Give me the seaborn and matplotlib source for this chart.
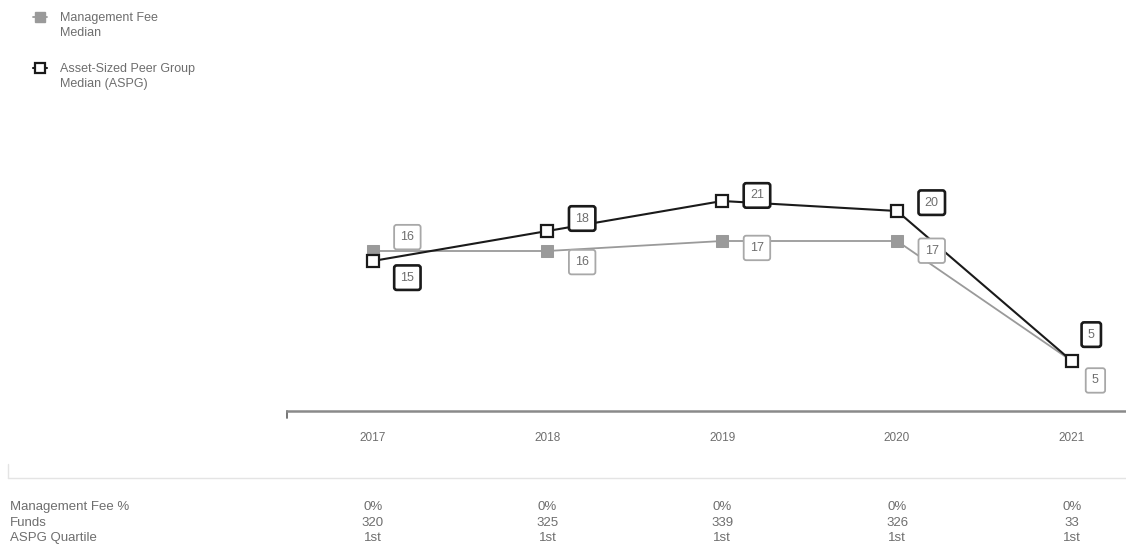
import matplotlib
matplotlib.use("Agg")
import matplotlib.pyplot as plt
import matplotlib.transforms as mtransforms
from matplotlib.lines import Line2D
import seaborn as sns
import pandas as pd

years = ["2017", "2018", "2019", "2020", "2021"]
mgmt_fee_median = [16, 16, 17, 17, 5]
aspg_median = [15, 18, 21, 20, 5]
mgmt_fee_pct = ["0%", "0%", "0%", "0%", "0%"]
funds = ["320", "325", "339", "326", "33"]
aspg_quartile = ["1st", "1st", "1st", "1st", "1st"]
row_labels = ["Management Fee %", "Funds", "ASPG Quartile"]
series_names = ["Management Fee\nMedian", "Asset-Sized Peer Group\nMedian (ASPG)"]

sns.set_theme(style="white")
plt.rcParams["font.family"] = ["Liberation Sans", "DejaVu Sans"]

GRAY = "#9a9a9a"
DARK = "#1a1a1a"
TEXT = "#6e6e6e"
W, H = 1126, 560

df = pd.DataFrame({
    "idx": list(range(len(years))) * 2,
    "value": mgmt_fee_median + aspg_median,
    "series": [series_names[0]] * len(years) + [series_names[1]] * len(years),
})

fig = plt.figure(figsize=(W / 100, H / 100), dpi=100)
ax = fig.add_axes([287 / W, 1 - 411 / H, 1 - 287 / W, 260 / H])

sns.lineplot(data=df[df.series == series_names[0]], x="idx", y="value",
             color=GRAY, lw=1.3, marker="s", markersize=8,
             markerfacecolor=GRAY, markeredgecolor=GRAY, ax=ax, legend=False)
sns.lineplot(data=df[df.series == series_names[1]], x="idx", y="value",
             color=DARK, lw=1.5, marker="s", markersize=8,
             markerfacecolor="white", markeredgecolor=DARK, markeredgewidth=1.6,
             ax=ax, legend=False)

ax.set_xlim(-0.49, 4.31)
ax.set_ylim(0, 26)
for s in ["left", "right", "top"]:
    ax.spines[s].set_visible(False)
ax.spines["bottom"].set_color("#8a8a8a")
ax.spines["bottom"].set_linewidth(1.8)
ax.set_xticks(range(len(years)))
ax.set_xticklabels(years, fontsize=8.5, color=TEXT)
ax.tick_params(axis="x", length=0, pad=15)
ax.set_yticks([])
ax.set_xlabel("")
ax.set_ylabel("")
# small downward tick at the left end of the baseline
ax.add_line(Line2D([0, 0], [0, -0.028], transform=ax.transAxes, color="#6a6a6a",
                   lw=1.3, clip_on=False))

# value labels (offsets in points)
gray_off = [(25, 10), (25, -8), (25, -5), (25, -7), (17, -14)]
dark_off = [(25, -12), (25, 9), (25, 4), (25, 6), (14, 19)]
box_kw = dict(boxstyle="round,pad=0.5,rounding_size=0.2", fc="white")
for i in range(len(years)):
    ax.annotate(str(mgmt_fee_median[i]), (i, mgmt_fee_median[i]),
                xytext=gray_off[i], textcoords="offset points",
                ha="center", va="center", fontsize=9, color=TEXT,
                bbox=dict(**box_kw, ec="#a8a8a8", lw=1.3))
    ax.annotate(str(aspg_median[i]), (i, aspg_median[i]),
                xytext=dark_off[i], textcoords="offset points",
                ha="center", va="center", fontsize=9, color=TEXT,
                bbox=dict(**box_kw, ec=DARK, lw=1.9))

# legend in the top-left corner: marker aligned with the first text line
legend_styles = [
    dict(color=GRAY, lw=1.3, markerfacecolor=GRAY, markeredgecolor=GRAY),
    dict(color=DARK, lw=1.5, markerfacecolor="white", markeredgecolor=DARK,
         markeredgewidth=1.6),
]
legend_y = [17, 68]
for name, style, y in zip(series_names, legend_styles, legend_y):
    yf = 1 - y / H
    fig.add_artist(Line2D([33 / W, 47 / W], [yf, yf], **style))
    fig.add_artist(Line2D([40 / W], [yf], marker="s", markersize=7.5, **style))
    fig.text(60 / W, 1 - (y - 5) / H, name, ha="left", va="top", fontsize=9,
             color=TEXT, linespacing=1.3)

# separator above the data table
fig.add_artist(Line2D([8 / W, 1], [1 - 478 / H] * 2, color="#e4e4e4", lw=1))
fig.add_artist(Line2D([8 / W, 8 / W], [1 - 464 / H, 1 - 478 / H],
                      color="#e4e4e4", lw=1))

# data table below the chart
trans = mtransforms.blended_transform_factory(ax.transData, fig.transFigure)
rows = [mgmt_fee_pct, funds, aspg_quartile]
row_y = [507, 523, 538]
for label, vals, y in zip(row_labels, rows, row_y):
    yf = 1 - y / H
    fig.text(10 / W, yf, label, ha="left", va="center", fontsize=9.5, color=TEXT)
    for i, v in enumerate(vals):
        ax.text(i, yf, v, transform=trans, ha="center", va="center",
                fontsize=9.5, color=TEXT, clip_on=False)

fig.savefig("out.png", dpi=100)
